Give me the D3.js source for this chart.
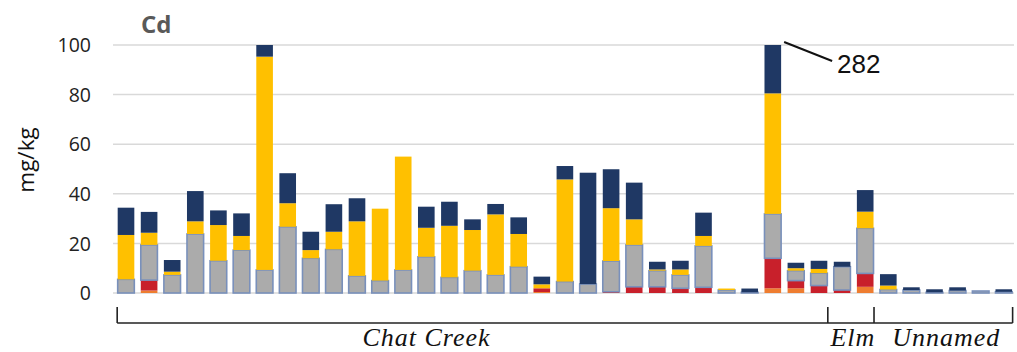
<!DOCTYPE html>
<html>
<head>
<meta charset="utf-8">
<script src="https://cdn.jsdelivr.net/npm/d3@7"></script>
<style>
  html, body { margin: 0; padding: 0; background: #fff; }
  svg { display: block; }
</style>
</head>
<body>
<svg id="chart" width="1017" height="352"></svg>
<script>
// Cd concentrations (mg/kg) per sample, stacked by fraction
const samples = d3.range(39).map(i => "S" + (i + 1));
const orange = [0,1.0,0,0,0,0,0,0,0,0,0,0,0,0,0,0,0,0,0.4,0,0,0,0,0,0,0,0,0,1.9,1.9,0,0,2.5,0,0,0,0,0,0];
const red    = [0,4.2,0,0,0,0,0,0,0,0,0,0,0,0,0,0,0,0,1.5,0,0,0.5,2.5,2.5,1.9,2.3,0,0,12.1,3.1,3.0,1.2,5.4,0,0,0,0,0,0];
const grey   = [5.5,14.2,7.3,23.8,13.0,17.3,9.3,26.7,14.0,17.6,6.9,5.0,9.3,14.6,6.3,9.0,7.3,10.6,0,4.6,3.6,12.4,16.9,6.5,5.4,16.7,1.2,0.3,17.9,4.0,5.0,9.4,18.2,1.4,1.2,0.3,1.0,0.8,0.5];
const yellow = [17.9,4.9,1.3,5.1,14.4,5.7,86.0,9.5,3.3,7.1,22.0,29.0,45.7,11.7,20.8,16.4,24.4,13.2,1.6,41.2,0,21.3,10.3,0.5,2.2,4.0,0.6,0,48.6,1.0,1.7,0,6.7,1.6,0,0,0,0,0];
const navy   = [11.0,8.4,4.7,12.2,5.9,9.1,4.7,12.1,7.4,11.1,9.3,0,0,8.5,9.7,4.3,4.2,6.7,3.1,5.4,44.9,15.7,14.8,3.1,3.5,9.4,0,1.5,201.5,2.2,3.3,2.0,8.7,4.6,1.1,1.2,1.3,0,1.0];

// Site groups: name and number of samples in each
const groupNames = ["Chat Creek", "Elm", "Unnamed"];
const groupSizes = [31, 2, 6];

const yTicks = [0, 20, 40, 60, 80, 100];
const keys = ["orange", "red", "grey", "yellow", "navy"];
const series = { orange, red, grey, yellow, navy };

const colors = {
  orange: "#ee7d30",
  red: "#c8202b",
  grey: "#ababab",
  yellow: "#ffc000",
  navy: "#1f3864"
};

const svg = d3.select("#chart");

const x = d3.scaleBand()
  .domain(samples)
  .range([114.45, 1015.35])
  .paddingInner(0.28)
  .paddingOuter(0.14);

const y = d3.scaleLinear().domain([0, 100]).range([293, 45]);

// gridlines
svg.append("g")
  .selectAll("line")
  .data(yTicks)
  .join("line")
  .attr("x1", 113)
  .attr("x2", 1014)
  .attr("y1", d => y(d))
  .attr("y2", d => y(d))
  .attr("stroke", "#d9d9d9")
  .attr("stroke-width", 1.5);

// y axis labels
const yAxis = d3.axisLeft(y).tickValues(yTicks).tickSize(0).tickPadding(0);
const ya = svg.append("g").attr("transform", "translate(91,0)").call(yAxis);
ya.select(".domain").remove();
ya.selectAll("text")
  .attr("font-family", "'Open Sans', sans-serif")
  .attr("font-size", 19.5)
  .attr("fill", "#222")
  .attr("dy", "0.34em");

// unit label
svg.append("text")
  .attr("transform", "translate(34,160) rotate(-90)")
  .attr("text-anchor", "middle")
  .attr("font-family", "'Open Sans', sans-serif")
  .attr("font-size", 22.5)
  .attr("fill", "#111")
  .text("mg/kg");

// element title
svg.append("text")
  .attr("x", 141)
  .attr("y", 33)
  .attr("font-family", "'Open Sans', sans-serif")
  .attr("font-weight", "bold")
  .attr("font-size", 24)
  .attr("fill", "#595959")
  .text("Cd");

// stacked bars
const table = samples.map((s, i) => {
  const row = { sample: s };
  keys.forEach(k => row[k] = series[k][i]);
  return row;
});
const stacked = d3.stack().keys(keys)(table);

svg.append("clipPath").attr("id", "plotClip")
  .append("rect")
  .attr("x", 100).attr("y", y(100))
  .attr("width", 917).attr("height", y(0) - y(100) + 2);

const bars = svg.append("g").attr("clip-path", "url(#plotClip)");
stacked.forEach(layer => {
  bars.append("g")
    .selectAll("rect")
    .data(layer.filter(d => d[1] - d[0] > 0))
    .join("rect")
    .attr("x", d => x(d.data.sample))
    .attr("width", x.bandwidth())
    .attr("y", d => y(d[1]))
    .attr("height", d => y(d[0]) - y(d[1]))
    .attr("fill", colors[layer.key])
    .attr("stroke", layer.key === "grey" ? "#7990bb" : "none")
    .attr("stroke-width", layer.key === "grey" ? 1.6 : 0);
});

// off-scale callout for the tallest sample
const maxIdx = d3.maxIndex(table, d => d3.sum(keys, k => d[k]));
const maxTotal = d3.sum(keys, k => table[maxIdx][k]);
const lx1 = x(samples[maxIdx]) + x.bandwidth() + 3;
const ly1 = y(100) - 3;
svg.append("line")
  .attr("x1", lx1).attr("y1", ly1)
  .attr("x2", lx1 + 48).attr("y2", ly1 + 19)
  .attr("stroke", "#111").attr("stroke-width", 2);
svg.append("text")
  .attr("x", lx1 + 53)
  .attr("y", ly1 + 31)
  .attr("font-family", "'Liberation Sans', Arial, sans-serif")
  .attr("font-size", 26)
  .attr("fill", "#111")
  .text(d3.format("d")(Math.round(maxTotal)));

// site group bracket
const bounds = [x(samples[0]) - 0.5];
let acc = 0;
groupSizes.forEach(n => {
  acc += n;
  bounds.push(x(samples[acc - 1]) + x.bandwidth() + 0.5);
});
const bracket = svg.append("g").attr("stroke", "#222").attr("stroke-width", 1.6);
bracket.append("line")
  .attr("x1", bounds[0]).attr("x2", bounds[bounds.length - 1])
  .attr("y1", 323).attr("y2", 323);
bracket.selectAll(".tick")
  .data(bounds)
  .join("line")
  .attr("x1", d => d).attr("x2", d => d)
  .attr("y1", 307).attr("y2", 323);

// group names (first label sits left of its span centre)
const labelShift = [-46, 2, 3];
svg.append("g")
  .selectAll("text")
  .data(groupNames)
  .join("text")
  .attr("x", (d, i) => (bounds[i] + bounds[i + 1]) / 2 + labelShift[i])
  .attr("y", 346)
  .attr("text-anchor", "middle")
  .attr("font-family", "'Liberation Serif', 'Times New Roman', serif")
  .attr("font-style", "italic")
  .attr("font-size", 26)
  .attr("letter-spacing", 1)
  .attr("fill", "#111")
  .text(d => d);
</script>
</body>
</html>
